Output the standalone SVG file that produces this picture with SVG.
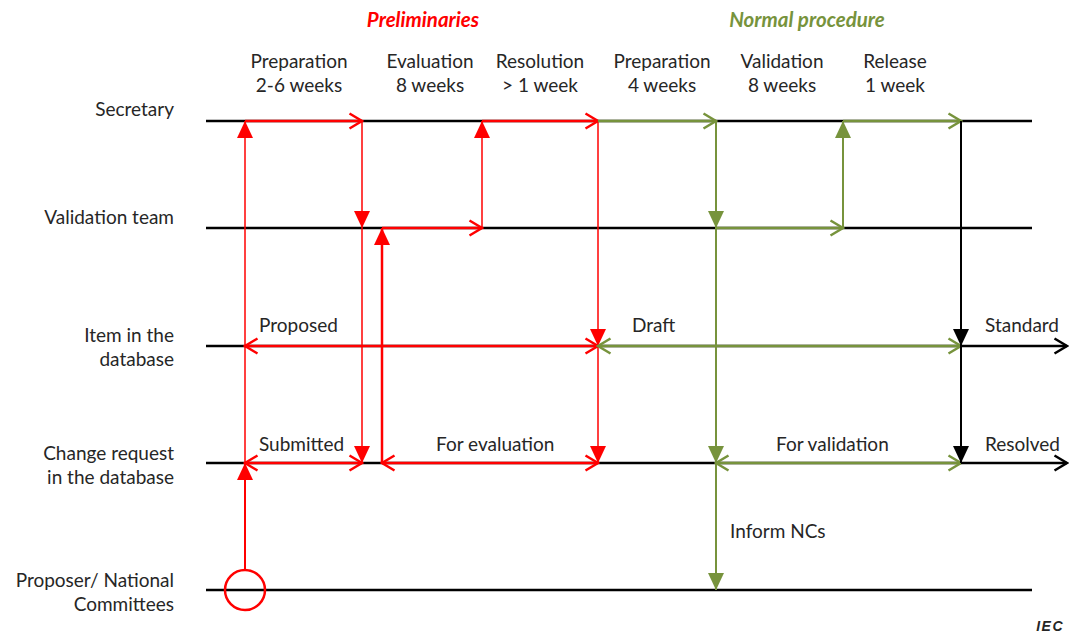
<svg xmlns="http://www.w3.org/2000/svg" width="1070" height="632" viewBox="0 0 1070 632">
  <style>
    text { font-family: Lato, "Open Sans", sans-serif; font-size: 19px; fill: #262626; }
    .head { font-size: 20.5px; font-weight: bold; font-style: italic; text-anchor: middle; }
    .mid { text-anchor: middle; }
    .end { text-anchor: end; }
    .lane { stroke: #000; stroke-width: 2.5; fill: none; }
    .r { stroke: #ff0000; fill: none; }
    .g { stroke: #77933c; fill: none; }
    .k { stroke: #000; fill: none; }
    .w1 { stroke-width: 1.5; }
    .w2 { stroke-width: 2; }
    .w3 { stroke-width: 2.5; }
  </style>
  <defs>
    <!-- open chevron heads -->
    <marker id="chR" viewBox="-15 -10 17 20" markerWidth="17" markerHeight="20" refX="0" refY="0" markerUnits="userSpaceOnUse" orient="auto-start-reverse">
      <path d="M-12.5,-7.5 L0,0 L-12.5,7.5" fill="none" stroke="#ff0000" stroke-width="2.5"/>
    </marker>
    <marker id="chG" viewBox="-15 -10 17 20" markerWidth="17" markerHeight="20" refX="0" refY="0" markerUnits="userSpaceOnUse" orient="auto-start-reverse">
      <path d="M-12.5,-7.5 L0,0 L-12.5,7.5" fill="none" stroke="#77933c" stroke-width="2.5"/>
    </marker>
    <marker id="chK" viewBox="-15 -10 17 20" markerWidth="17" markerHeight="20" refX="0" refY="0" markerUnits="userSpaceOnUse" orient="auto-start-reverse">
      <path d="M-12.5,-7.5 L0,0 L-12.5,7.5" fill="none" stroke="#000" stroke-width="2.5"/>
    </marker>
    <!-- filled triangle heads -->
    <marker id="trR" viewBox="-18 -9 19 18" markerWidth="19" markerHeight="18" refX="0" refY="0" markerUnits="userSpaceOnUse" orient="auto">
      <path d="M-17,-8 L0,0 L-17,8 Z" fill="#ff0000"/>
    </marker>
    <marker id="trG" viewBox="-18 -9 19 18" markerWidth="19" markerHeight="18" refX="0" refY="0" markerUnits="userSpaceOnUse" orient="auto">
      <path d="M-17,-8 L0,0 L-17,8 Z" fill="#77933c"/>
    </marker>
    <marker id="trK" viewBox="-18 -9 19 18" markerWidth="19" markerHeight="18" refX="0" refY="0" markerUnits="userSpaceOnUse" orient="auto">
      <path d="M-17,-8 L0,0 L-17,8 Z" fill="#000"/>
    </marker>
  </defs>

  <rect width="1070" height="632" fill="#fff"/>

  <!-- phase headings -->
  <g id="headings">
    <text class="head" x="423" y="27" style="fill:#ff0000">Preliminaries</text>
    <text class="head" x="807" y="27" style="fill:#77933c">Normal procedure</text>
    <text class="mid" x="299" y="68">Preparation</text>
    <text class="mid" x="299" y="92">2-6 weeks</text>
    <text class="mid" x="430" y="68">Evaluation</text>
    <text class="mid" x="430" y="92">8 weeks</text>
    <text class="mid" x="540" y="68">Resolution</text>
    <text class="mid" x="540" y="92">&gt; 1 week</text>
    <text class="mid" x="662" y="68">Preparation</text>
    <text class="mid" x="662" y="92">4 weeks</text>
    <text class="mid" x="782" y="68">Validation</text>
    <text class="mid" x="782" y="92">8 weeks</text>
    <text class="mid" x="895" y="68">Release</text>
    <text class="mid" x="895" y="92">1 week</text>
  </g>

  <!-- swim lanes -->
  <g id="lane-secretary">
    <text class="end" x="174" y="116">Secretary</text>
    <line class="lane" x1="206" y1="121" x2="1032" y2="121"/>
  </g>
  <g id="lane-validation-team">
    <text class="end" x="174" y="224">Validation team</text>
    <line class="lane" x1="206" y1="228" x2="1032" y2="228"/>
  </g>
  <g id="lane-item">
    <text class="end" x="174" y="342">Item in the</text>
    <text class="end" x="174" y="366">database</text>
    <line class="lane" x1="206" y1="346" x2="961" y2="346"/>
  </g>
  <g id="lane-change-request">
    <text class="end" x="174" y="460">Change request</text>
    <text class="end" x="174" y="484">in the database</text>
    <line class="lane" x1="206" y1="463" x2="961" y2="463"/>
  </g>
  <g id="lane-proposer">
    <text class="end" x="174" y="587">Proposer/ National</text>
    <text class="end" x="174" y="611">Committees</text>
    <line class="lane" x1="206" y1="590" x2="1032" y2="590"/>
    <circle cx="245" cy="590" r="20" fill="none" stroke="#ff0000" stroke-width="2.5"/>
  </g>

  <!-- state labels -->
  <g id="state-labels">
    <text x="259" y="332">Proposed</text>
    <text x="632" y="332">Draft</text>
    <text x="985" y="332">Standard</text>
    <text x="259" y="451">Submitted</text>
    <text x="436" y="451">For evaluation</text>
    <text x="776" y="451">For validation</text>
    <text x="985" y="451">Resolved</text>
    <text x="730" y="538">Inform NCs</text>
  </g>

  <g id="connectors">
    <!-- preliminaries -->
    <line class="r w2" x1="245" y1="570" x2="245" y2="463" marker-end="url(#trR)"/>
    <line class="r w1" x1="245" y1="463" x2="245" y2="121" marker-end="url(#trR)"/>
    <line class="r w3" x1="245" y1="121" x2="362" y2="121" marker-end="url(#chR)"/>
    <line class="r w1" x1="362" y1="121" x2="362" y2="228" marker-end="url(#trR)"/>
    <line class="r w1" x1="362" y1="228" x2="362" y2="463" marker-end="url(#trR)"/>
    <line class="r w3" x1="382" y1="463" x2="382" y2="228" marker-end="url(#trR)"/>
    <line class="r w3" x1="382" y1="228" x2="482" y2="228" marker-end="url(#chR)"/>
    <line class="r w1" x1="482" y1="228" x2="482" y2="121" marker-end="url(#trR)"/>
    <line class="r w3" x1="482" y1="121" x2="598" y2="121" marker-end="url(#chR)"/>
    <line class="r w1" x1="598" y1="121" x2="598" y2="346" marker-end="url(#trR)"/>
    <line class="r w1" x1="598" y1="346" x2="598" y2="463" marker-end="url(#trR)"/>
    <line class="r w3" x1="245" y1="346" x2="598" y2="346" marker-start="url(#chR)" marker-end="url(#chR)"/>
    <line class="r w3" x1="245" y1="463" x2="362" y2="463" marker-start="url(#chR)" marker-end="url(#chR)"/>
    <line class="r w3" x1="382" y1="463" x2="598" y2="463" marker-start="url(#chR)" marker-end="url(#chR)"/>

    <!-- normal procedure -->
    <line class="g w3" x1="598" y1="121" x2="716" y2="121" marker-end="url(#chG)"/>
    <line class="g w2" x1="716" y1="121" x2="716" y2="228" marker-end="url(#trG)"/>
    <line class="g w2" x1="716" y1="228" x2="716" y2="463" marker-end="url(#trG)"/>
    <line class="g w2" x1="716" y1="463" x2="716" y2="590" marker-end="url(#trG)"/>
    <line class="g w3" x1="716" y1="228" x2="843" y2="228" marker-end="url(#chG)"/>
    <line class="g w2" x1="843" y1="228" x2="843" y2="121" marker-end="url(#trG)"/>
    <line class="g w3" x1="843" y1="121" x2="961" y2="121" marker-end="url(#chG)"/>
    <line class="g w3" x1="598" y1="346" x2="961" y2="346" marker-start="url(#chG)" marker-end="url(#chG)"/>
    <line class="g w3" x1="716" y1="463" x2="961" y2="463" marker-start="url(#chG)" marker-end="url(#chG)"/>

    <!-- release -->
    <line class="k w2" x1="961" y1="121" x2="961" y2="346" marker-end="url(#trK)"/>
    <line class="k w2" x1="961" y1="346" x2="961" y2="463" marker-end="url(#trK)"/>
    <line class="k w3" x1="961" y1="346" x2="1067" y2="346" marker-end="url(#chK)"/>
    <line class="k w3" x1="961" y1="463" x2="1067" y2="463" marker-end="url(#chK)"/>
  </g>

  <text x="1064" y="631" style="font-family:'Liberation Sans',Arial,sans-serif;font-size:14px;font-weight:bold;font-style:italic;text-anchor:end;letter-spacing:1.5px">IEC</text>
</svg>
